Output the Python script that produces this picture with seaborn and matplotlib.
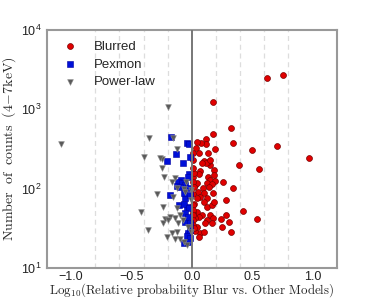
import matplotlib
matplotlib.use("Agg")
import matplotlib.pyplot as plt
import seaborn as sns

# Blurred reflection model
blur_x = [0.625, 0.755, 0.178, 0.325, 0.172, 0.338, 0.117, 0.113, 0.072, 0.042,
          0.036, 0.194, 0.500, 0.708, 0.967, 0.558, 0.420, 0.536, 0.389, 0.338,
          0.258, 0.286, 0.286, 0.244, 0.308, 0.253, 0.325, 0.153, 0.133,
          0.055, 0.130, 0.097, 0.119, 0.083, 0.153, 0.069, 0.055, 0.186, 0.180,
          0.130, 0.153, 0.194, 0.125, 0.028, 0.042, 0.092, 0.167, 0.139, 0.047,
          0.097, 0.175, 0.069, 0.013, 0.125, 0.042, 0.010, 0.015,
          0.015, 0.097, 0.125, 0.167, 0.180, 0.042, 0.083, 0.055, 0.153, 0.175,
          0.125, 0.111, 0.167, 0.028, 0.069, 0.097, 0.055, 0.028, 0.042, 0.008,
          0.012, 0.010, 0.012, 0.010, 0.014, 0.010, 0.012, 0.010, 0.012, 0.010,
          0.014]
blur_y = [2510, 2720, 1230, 578, 490, 380, 424, 366, 380, 388,
          324, 315, 307, 348, 245, 176, 53, 42, 199, 101,
          123, 73, 47, 41.5, 37.7, 32.6, 28.7, 199, 219,
          284, 279, 225, 213, 209, 230, 169, 153, 172, 149,
          139, 129, 126, 119, 111, 117, 101, 114, 104, 92,
          87, 89, 79, 86, 76, 76, 142, 156,
          64, 68.5, 59, 62, 68.5, 51, 46.6, 44, 46.6, 42.4,
          40.3, 36.6, 36.6, 42.4, 27.4, 28.7, 24.8, 29.5, 33.2, 49,
          282, 232, 180, 122, 106, 62, 54, 46.6, 40, 35,
          31.7]

# Pexmon model
pex_x = [-0.175, -0.042, -0.020, -0.131, -0.075, -0.014, -0.208, -0.089, -0.111,
         -0.125, -0.181, -0.060, -0.042, -0.056, -0.062, -0.028, -0.020, -0.036,
         -0.083, -0.056, -0.033, -0.097, -0.069, -0.014, -0.103, -0.069, -0.020,
         -0.056, -0.028, -0.014, -0.028, -0.042, -0.014, -0.028, -0.014]
pex_y = [453, 373, 363, 274, 213, 254, 223, 129, 123,
         108, 83, 76, 59, 38, 20.5, 26, 153, 142,
         117, 111, 101, 106, 89, 83, 62, 64, 57,
         49, 44, 37, 27.4, 25.4, 23.7, 21, 30]

# Power-law model
pl_x = [-1.087, -0.198, -0.356, -0.158, -0.125, -0.398, -0.250, -0.264, -0.231,
        -0.292, -0.242, -0.425, -0.361, -0.208, -0.181, -0.236, -0.250, -0.139,
        -0.120, -0.167, -0.069, -0.047, -0.153, -0.056, -0.005, -0.003, -0.222,
        -0.194, -0.125, -0.097, -0.139, -0.075, -0.111, -0.167, -0.125, -0.139,
        -0.097, -0.069, -0.028, -0.004, -0.042]
pl_y = [363, 1082, 432, 432, 316, 249, 235, 243, 142,
        85, 59, 51, 30, 24.4, 44, 37, 181, 135,
        101, 123, 98, 123, 79, 92, 96, 73, 41.5,
        40, 57, 46.6, 42.4, 40, 36.6, 27.9, 28.7, 23,
        23, 21.3, 33, 28.7, 19.5]

grid_x = [-0.8, -0.6, -0.4, -0.2, 0.2, 0.4, 0.6, 0.8]

sns.set_style("white")
plt.rcParams["font.family"] = ["Liberation Sans", "DejaVu Sans"]

fig = plt.figure(figsize=(3.74, 2.99), dpi=100)
ax = fig.add_axes([0.1257, 0.1037, 0.7746, 0.7960])

for gx in grid_x:
    ax.axvline(gx, color="#dddddd", lw=0.9, ls=(0, (4, 3)), zorder=0)

sns.scatterplot(x=blur_x, y=blur_y, ax=ax, marker="o", s=18, color="#e00000",
                edgecolor="#7a0000", linewidth=0.5, label="Blurred", zorder=3)
sns.scatterplot(x=pex_x, y=pex_y, ax=ax, marker="s", s=15, color="#0010d8",
                edgecolor="#0000a0", linewidth=0.4, label="Pexmon", zorder=3)
sns.scatterplot(x=pl_x, y=pl_y, ax=ax, marker="v", s=17, color="#5a5a5a",
                edgecolor="#8a8a8a", linewidth=0.4, label="Power-law", zorder=3)

ax.axvline(0.0, color="#777777", lw=1.4, zorder=4)

ax.set_yscale("log")
ax.set_xlim(-1.2, 1.2)
ax.set_ylim(10, 1e4)
ax.set_xticks([-1.0, -0.5, 0.0, 0.5, 1.0])
ax.set_xticklabels(["\u22121.0", "\u22120.5", "0.0", "0.5", "1.0"])
ax.minorticks_off()
ax.tick_params(length=0, labelsize=9, colors="#222222")
ax.tick_params(axis="x", pad=2)
ax.tick_params(axis="y", pad=4)

for sp in ax.spines.values():
    sp.set_visible(True)
    sp.set_color("#999999")
    sp.set_linewidth(1.5)

ax.set_xlabel(r"Log$_{10}$(Relative probability Blur vs. Other Models)",
              family="cmr10", math_fontfamily="cm", fontsize=9.3, labelpad=-1)
ax.set_ylabel(r"$\mathrm{Number\ \ of\ \ counts}\ \ (4\!-\!7\mathrm{keV})$",
              math_fontfamily="cm", fontsize=10, labelpad=2)

ax.legend(loc="upper left", frameon=False, fontsize=9.5, handlelength=1.0,
          handletextpad=1.3, labelspacing=0.42, borderaxespad=0.4,
          bbox_to_anchor=(0.02, 1.0))

fig.savefig("out.png", dpi=100)
